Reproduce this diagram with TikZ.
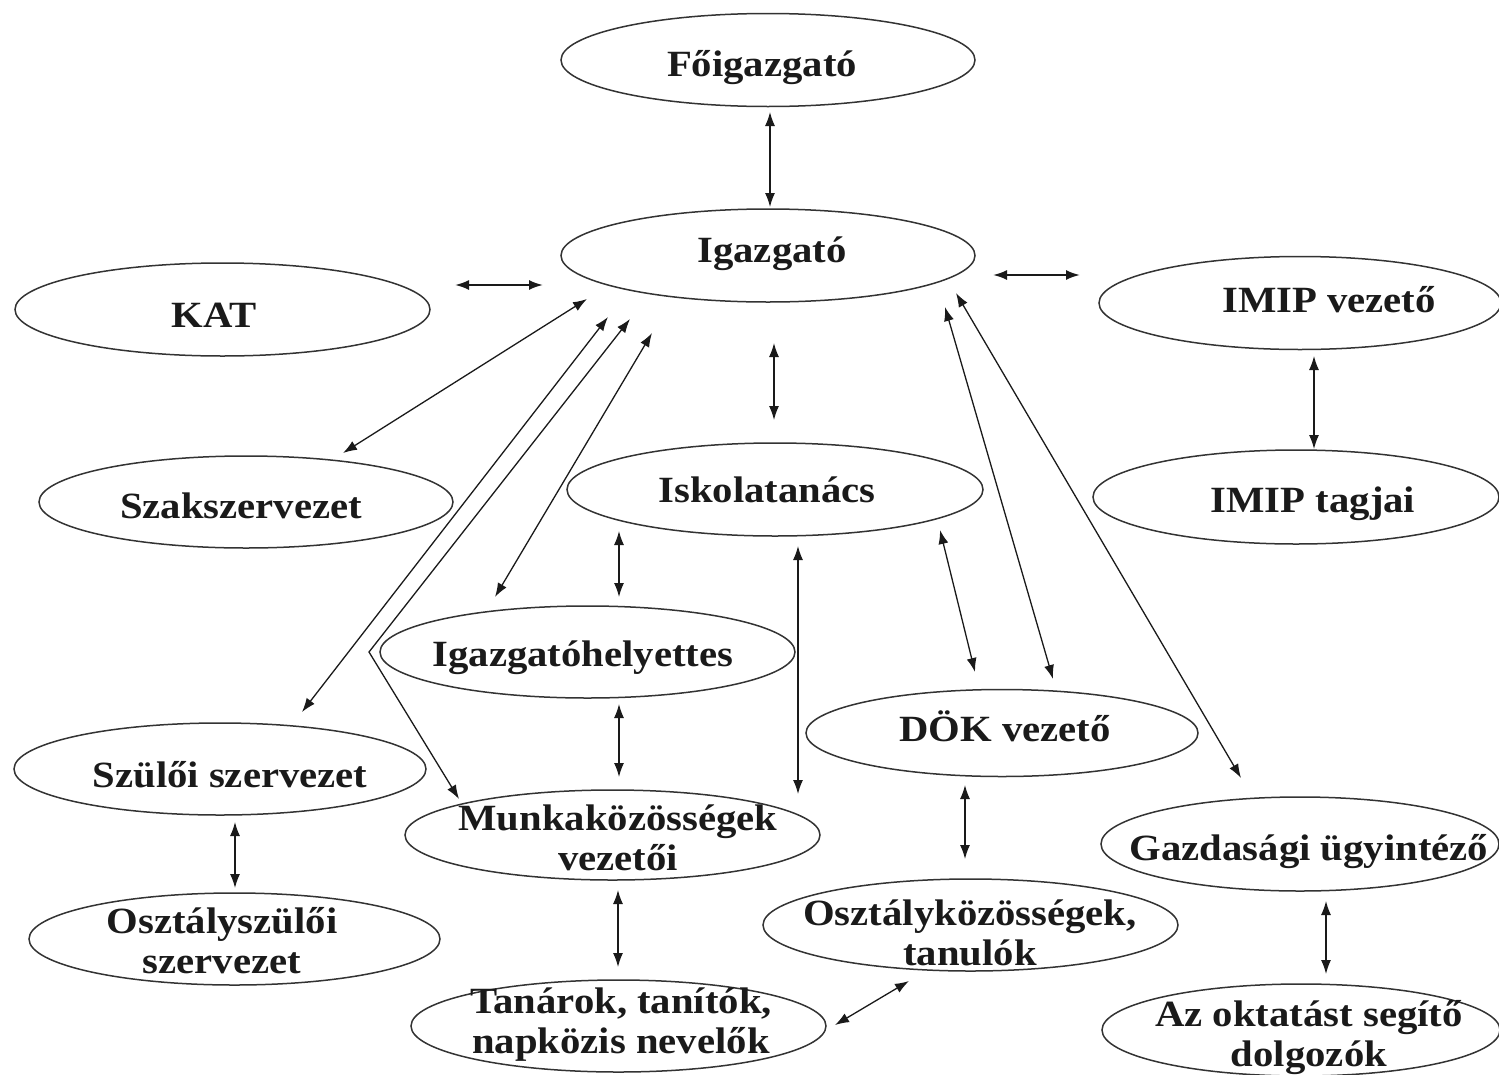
\documentclass[tikz,border=0pt]{standalone}
\usepackage{fontspec}
\newfontfamily\lblfont[FakeStretch=1.10]{Liberation Serif}
\usetikzlibrary{shapes.geometric,arrows.meta}
\definecolor{ink}{HTML}{1A1A1A}
\definecolor{edge}{HTML}{333333}
\tikzset{
  ell/.style={draw=edge, line width=1.5pt, ellipse, inner sep=0pt},
  lbl/.style={font=\lblfont\bfseries\fontsize{37}{40}\selectfont, text=ink, align=center, anchor=base, inner sep=0pt},
  link/.style={draw=ink, line width=1.3pt, {Latex[length=14pt,width=10pt]}-{Latex[length=14pt,width=10pt]}},
  thick link/.style={link, line width=2pt},
}
\begin{document}
\begin{tikzpicture}[x=1pt,y=-1pt]
\path[use as bounding box] (0,0) rectangle (1499,1074);
\clip (0,0) rectangle (1499,1074);
% ellipses
\node[ell, minimum width=414pt, minimum height=93pt] (fo)   at (768,60) {};
\node[ell, minimum width=414pt, minimum height=93pt] (ig)   at (768,255.5) {};
\node[ell, minimum width=415pt, minimum height=93pt] (kat)  at (222.5,309.5) {};
\node[ell, minimum width=402pt, minimum height=93pt] (imv)  at (1300,303) {};
\node[ell, minimum width=406pt, minimum height=94pt] (imt)  at (1296,497) {};
\node[ell, minimum width=414pt, minimum height=92pt] (szak) at (246,502) {};
\node[ell, minimum width=416pt, minimum height=93pt] (isk)  at (775,489.5) {};
\node[ell, minimum width=415pt, minimum height=92pt] (igh)  at (587.5,652) {};
\node[ell, minimum width=392pt, minimum height=87pt] (dok)  at (1002,733) {};
\node[ell, minimum width=412pt, minimum height=92pt] (szul) at (220,769) {};
\node[ell, minimum width=415pt, minimum height=90pt] (munk) at (612.5,835) {};
\node[ell, minimum width=398pt, minimum height=94pt] (gazd) at (1300,844) {};
\node[ell, minimum width=411pt, minimum height=92pt] (oszsz) at (234.5,939) {};
\node[ell, minimum width=415pt, minimum height=92pt] (oszk) at (970.5,925) {};
\node[ell, minimum width=415pt, minimum height=92pt] (tan)  at (618.5,1026) {};
\node[ell, minimum width=398pt, minimum height=92pt] (az)   at (1301,1030) {};
% labels
\node[lbl] (fo-t)   at (762,76) {Főigazgató};
\node[lbl] (ig-t)   at (772,262) {Igazgató};
\node[lbl] (kat-t)  at (214,327) {KAT};
\node[lbl] (imv-t)  at (1329,312) {IMIP vezető};
\node[lbl] (imt-t)  at (1313,512) {IMIP tagjai};
\node[lbl] (szak-t) at (241,518) {Szakszervezet};
\node[lbl] (isk-t)  at (767,502) {Iskolatanács};
\node[lbl] (igh-t)  at (583,666) {Igazgatóhelyettes};
\node[lbl] (dok-t)  at (1005,741) {DÖK vezető};
\node[lbl] (szul-t) at (230,787) {Szülői szervezet};
\node[lbl] (munk-t) at (618,870) {Munkaközösségek\\vezetői};
\node[lbl] (gazd-t) at (1309,860) {Gazdasági ügyintéző};
\node[lbl] (oszsz-t) at (222,973) {Osztályszülői\\szervezet};
\node[lbl] (oszk-t) at (970,965) {Osztályközösségek,\\tanulók};
\node[lbl] (tan-t)  at (621,1053) {Tanárok, tanítók,\\napközis nevelők};
\node[lbl] (az-t)   at (1309,1066) {Az oktatást segítő\\dolgozók};
% connector end points
\coordinate (a1s) at (770,112);   \coordinate (a1e) at (770,207);
\coordinate (a2s) at (455,285);   \coordinate (a2e) at (543,285);
\coordinate (a3s) at (993,275);   \coordinate (a3e) at (1080,275);
\coordinate (a4s) at (774,343);   \coordinate (a4e) at (774,420);
\coordinate (a5s) at (1314,356);  \coordinate (a5e) at (1314,449);
\coordinate (a6s) at (587,299);   \coordinate (a6e) at (343,453);
\coordinate (a7s) at (608,317);   \coordinate (a7e) at (302,712);
\coordinate (a8s) at (630,319);   \coordinate (a8b) at (369,652); \coordinate (a8e) at (459,799);
\coordinate (a9s) at (652,333);   \coordinate (a9e) at (495,597);
\coordinate (a10s) at (619,531);  \coordinate (a10e) at (619,597);
\coordinate (a11s) at (798,546);  \coordinate (a11e) at (798,794);
\coordinate (a12s) at (940,530);  \coordinate (a12e) at (975,672);
\coordinate (a13s) at (945,307);  \coordinate (a13e) at (1053,679);
\coordinate (a14s) at (956,293);  \coordinate (a14e) at (1241,778);
\coordinate (a15s) at (619,704);  \coordinate (a15e) at (619,777);
\coordinate (a16s) at (235,822);  \coordinate (a16e) at (235,888);
\coordinate (a17s) at (618,890);  \coordinate (a17e) at (618,967);
\coordinate (a18s) at (965,785);  \coordinate (a18e) at (965,859);
\coordinate (a19s) at (835,1025); \coordinate (a19e) at (909,981);
\coordinate (a20s) at (1326,901); \coordinate (a20e) at (1326,974);
% connectors
\draw[link] (a1s) -- (a1e);
\draw[thick link] (a2s) -- (a2e);
\draw[thick link] (a3s) -- (a3e);
\draw[link] (a4s) -- (a4e);
\draw[link] (a5s) -- (a5e);
\draw[link] (a6s) -- (a6e);
\draw[link] (a7s) -- (a7e);
\draw[link] (a8s) -- (a8b) -- (a8e);
\draw[link] (a9s) -- (a9e);
\draw[link] (a10s) -- (a10e);
\draw[link] (a11s) -- (a11e);
\draw[link] (a12s) -- (a12e);
\draw[link] (a13s) -- (a13e);
\draw[link] (a14s) -- (a14e);
\draw[link] (a15s) -- (a15e);
\draw[link] (a16s) -- (a16e);
\draw[link] (a17s) -- (a17e);
\draw[link] (a18s) -- (a18e);
\draw[link] (a19s) -- (a19e);
\draw[link] (a20s) -- (a20e);
\end{tikzpicture}
\end{document}
